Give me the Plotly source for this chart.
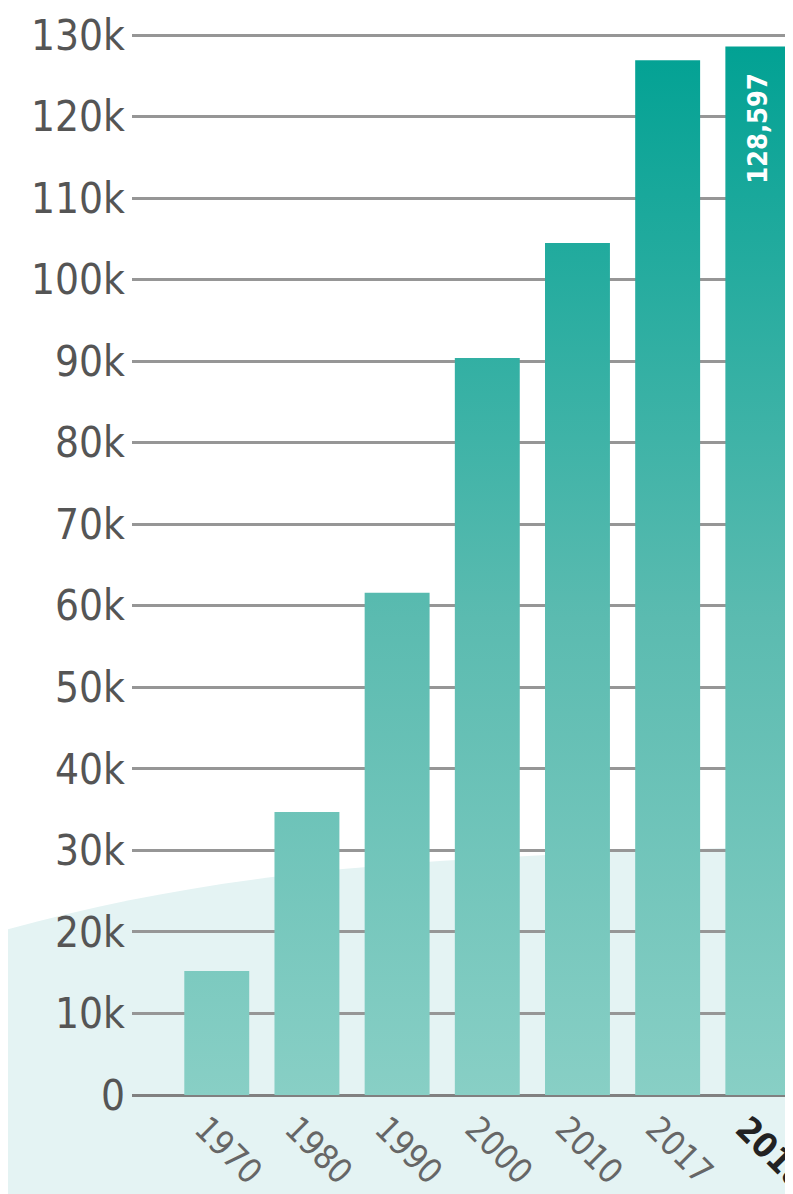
import plotly.graph_objects as go

# ---- data ----
years = ["1970", "1980", "1990", "2000", "2010", "2017", "2018"]
values = [15200, 34700, 61600, 90400, 104500, 126900, 128597]
y_ticks = [0, 10000, 20000, 30000, 40000, 50000, 60000, 70000, 80000, 90000,
           100000, 110000, 120000, 130000]
y_ticktext = ["0"] + [f"{v // 1000}k" for v in y_ticks[1:]]
x_ticktext = years[:-1] + ["<b><span style='color:#222222'>" + years[-1] + "</span></b>"]
highlight_label = "128,597"

FONT = "DejaVu Sans Condensed, Liberation Sans Narrow, sans-serif"
BAR_W = 0.72

fig = go.Figure()

# bars drawn as gradient-filled polygons on a numeric axis (one per category)
for i, v in enumerate(values):
    fig.add_trace(go.Scatter(
        x=[i - BAR_W / 2, i + BAR_W / 2, i + BAR_W / 2, i - BAR_W / 2, i - BAR_W / 2],
        y=[0, 0, v, v, 0],
        mode="lines",
        line=dict(width=0),
        fill="toself",
        fillcolor="#4fb6ab",
        fillgradient=dict(
            type="vertical",
            colorscale=[[0, "#88cfc5"], [0.45, "#5bbbb0"], [1, "#00a193"]],
            start=0, stop=130000,
        ),
        hoverinfo="skip",
        showlegend=False,
    ))

# background wash at the bottom
fig.add_shape(
    type="path", xref="paper", yref="paper", layer="below",
    path="M -0.25,0.145 C 0.1,0.21 0.4,0.225 1.05,0.235 L 1.05,-0.2 L -0.25,-0.2 Z",
    fillcolor="#e4f3f3", line=dict(width=0),
)

fig.add_annotation(
    x=6, y=values[-1], xref="x", yref="y",
    text="<b>" + highlight_label + "</b>", textangle=-90, showarrow=False,
    xanchor="center", yanchor="top", yshift=-24,
    font=dict(family=FONT, size=27, color="white"),
)

fig.update_layout(
    width=793, height=1194,
    margin=dict(l=124, r=8, t=25, b=107, autoexpand=False),
    paper_bgcolor="white",
    plot_bgcolor="rgba(0,0,0,0)",
    font=dict(family=FONT),
    xaxis=dict(
        range=[-0.94, 6.39],
        tickmode="array", tickvals=list(range(len(years))), ticktext=x_ticktext,
        tickangle=45, showgrid=False, zeroline=False, showline=False,
        ticklabeloverflow="allow", automargin=False,
        ticklabelshift=-12, ticklabelstandoff=6,
        tickfont=dict(family=FONT, size=34, color="#666666"),
        fixedrange=True,
    ),
    yaxis=dict(
        range=[0, 130250],
        tickmode="array", tickvals=y_ticks, ticktext=y_ticktext,
        showgrid=True, gridcolor="#969696", gridwidth=2.5,
        zeroline=True, zerolinecolor="#808080", zerolinewidth=3,
        showline=False, ticks="", automargin=False,
        ticklabelstandoff=6,
        tickfont=dict(family=FONT, size=42, color="#555555"),
        layer="below traces",
    ),
)

fig.write_html("out.html")
